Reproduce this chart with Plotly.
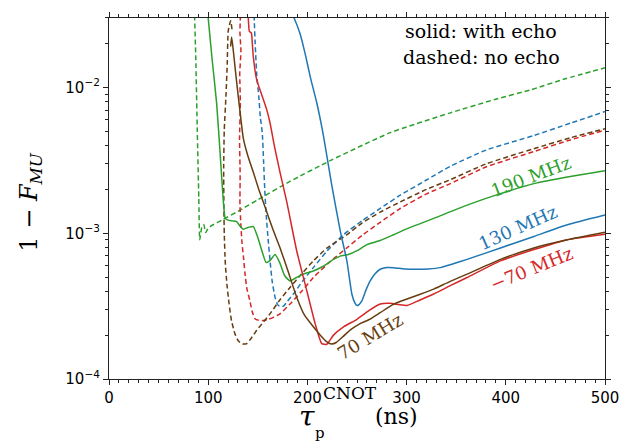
import plotly.graph_objects as go

# ---------------- data ----------------
# 190 MHz
green_noecho_x = [86.0, 87.5, 89.0, 90.5, 91.5, 93.5, 95.5, 97.5, 99.5, 103, 115, 130, 150, 182.5, 223, 283.5, 344, 390, 425, 460, 500]
green_noecho_y = [0.0355, 0.01585, 0.00501, 0.00178, 0.000902, 0.001096, 0.001148, 0.001012, 0.001072, 0.001122, 0.001245,
                  0.001413, 0.001698, 0.00227, 0.00315, 0.0049, 0.0067, 0.00832, 0.00964, 0.01148, 0.01365]
green_echo_x = [99.0, 100.0, 104.0, 108.5, 112.0, 115.3, 117.2, 120.0, 124.0, 128.7, 132.0, 135.4, 140.0, 145.5, 150.0,
                155.0, 158.3, 162.0, 167.4, 172.0, 177.0, 182.5, 189.0, 196.0, 206.0, 215.0, 226.3, 233.0, 241.4, 250.0,
                260.0, 273.4, 286.9, 300.0, 327.3, 361.0, 394.6, 428.3, 465.0, 500.0]
green_echo_y = [0.0355, 0.0300, 0.0155, 0.00782, 0.00355, 0.00164, 0.001265, 0.00123, 0.001216, 0.001202, 0.001122,
                0.001067, 0.001096, 0.001112, 0.000935, 0.000725, 0.000631, 0.000646, 0.000714, 0.000631, 0.000513,
                0.000471, 0.000497, 0.000525, 0.000551, 0.000589, 0.000661, 0.000697, 0.000714, 0.000759, 0.000836,
                0.000891, 0.000977, 0.001072, 0.001265, 0.00156, 0.00187, 0.00219, 0.00245, 0.00269]
# 130 MHz
blue_noecho_x = [146.0, 146.5, 147.5, 149.0, 151.0, 152.5, 154.5, 155.8, 157.0, 158.5, 160.6, 162.5, 164.5, 167.4, 170.0,
                 172.4, 175.8, 180.0, 185.9, 195.0, 206.0, 220.0, 236.4, 255.0, 273.4, 293.6, 320.0, 344.0, 380.0,
                 428.0, 465.0, 500.0]
blue_noecho_y = [0.0355, 0.0282, 0.01905, 0.01202, 0.00871, 0.00631, 0.0049, 0.00316, 0.002, 0.001318, 0.000879,
                 0.000631, 0.000468, 0.000363, 0.000324, 0.000314, 0.000316, 0.000343, 0.000383, 0.000468, 0.000581,
                 0.000759, 0.000977, 0.001216, 0.001479, 0.001824, 0.00232, 0.00288, 0.00372, 0.00468, 0.00569, 0.00684]
blue_echo_x = [181, 187, 192.6, 197.7, 203, 209.5, 216.2, 224.6, 233, 239.8, 244.8, 248, 250, 252, 255, 259, 263.3, 268,
               273.4, 280, 286.9, 298, 310, 322, 334, 347, 361, 394.6, 428.3, 462, 500]
blue_echo_y = [0.0355, 0.0295, 0.0234, 0.0171, 0.01175, 0.00783, 0.00466, 0.00213, 0.001047, 0.000646, 0.000383,
               0.000331, 0.000319, 0.000324, 0.000345, 0.000407, 0.000471, 0.000525, 0.000566, 0.000582, 0.000581,
               0.000569, 0.000566, 0.000569, 0.000581, 0.000617, 0.000662, 0.000793, 0.000951, 0.001143, 0.001334]
# -70 MHz
red_noecho_x = [132.8, 132.0, 133.0, 131.8, 132.4, 131.6, 132.2, 132.0, 133.0, 134.0, 135.5, 137.0, 139.0, 142.0, 144.5,
                147.2, 151.0, 155.6, 160.0, 165.7, 172.4, 182.5, 194.0, 206.0, 222.0, 239.8, 255.0, 273.4, 293.6,
                320.0, 344.0, 380.0, 428.0, 465.0, 500.0]
red_noecho_y = [0.0355, 0.024, 0.0178, 0.0126, 0.00794, 0.00447, 0.00251, 0.00158, 0.001122, 0.000871, 0.000692,
                0.000537, 0.000417, 0.000345, 0.000288, 0.000259, 0.000253, 0.000252, 0.000256, 0.000265, 0.00028,
                0.000327, 0.000398, 0.000497, 0.000631, 0.000794, 0.000966, 0.001189, 0.001479, 0.001862, 0.00219,
                0.00285, 0.00363, 0.00437, 0.0051]
red_echo_x = [140.0, 140.6, 141.5, 143.5, 144.5, 145.5, 148.9, 152.2, 155.5, 159.0, 162.3, 167.0, 172.4, 179.2, 189.3,
              199.4, 207.8, 214.5, 219.6, 226.3, 236.4, 250.0, 262.0, 273.4, 283.5, 292.0, 300.4, 313.0, 327.3, 344.0,
              361.0, 394.6, 428.3, 462.0, 500.0]
red_echo_y = [0.0355, 0.0282, 0.0243, 0.0237, 0.01995, 0.0162, 0.01127, 0.00964, 0.00832, 0.00705, 0.00573, 0.00389,
              0.00262, 0.00164, 0.000753, 0.000403, 0.00024, 0.000175, 0.000173, 0.0002, 0.000228, 0.000257, 0.000295,
              0.000327, 0.000331, 0.000324, 0.000319, 0.000347, 0.000383, 0.000437, 0.000497, 0.000646, 0.000773,
              0.000904, 0.000986]
# 70 MHz
brown_noecho_x = [124.0, 122.6, 120.2, 119.2, 117.9, 116.2, 115.6, 115.8, 116.2, 117.2, 119.0, 121.0, 123.5, 127.0,
                  130.5, 134.5, 138.8, 143.5, 148.9, 155.5, 162.3, 172.0, 182.5, 194.0, 206.0, 220.0, 239.8, 255.0,
                  273.4, 293.6, 320.0, 344.0, 380.0, 428.0, 465.0, 500.0]
brown_noecho_y = [0.0251, 0.0287, 0.0245, 0.01462, 0.00871, 0.00513, 0.00282, 0.00158, 0.001, 0.000631, 0.000437,
                  0.000331, 0.000251, 0.000204, 0.000182, 0.000174, 0.000175, 0.000191, 0.000216, 0.000245, 0.00028,
                  0.000347, 0.000425, 0.000525, 0.000646, 0.000794, 0.000977, 0.001175, 0.001396, 0.00164, 0.002,
                  0.00233, 0.00299, 0.0038, 0.00452, 0.00521]
brown_echo_x = [122.6, 123.6, 125.5, 128.0, 130.3, 133.0, 135.4, 140.0, 145.5, 151.0, 157.3, 165.0, 172.4, 180.0,
                189.3, 197.0, 206.0, 213.0, 219.6, 224.6, 229.0, 236.4, 244.0, 253.2, 263.0, 273.4, 286.0, 300.4,
                313.0, 327.3, 344.0, 361.0, 394.6, 428.3, 462.0, 500.0]
brown_echo_y = [0.0191, 0.0222, 0.0174, 0.0120, 0.00869, 0.00603, 0.00447, 0.00339, 0.00262, 0.002, 0.001514, 0.001072,
                0.000794, 0.000562, 0.000363, 0.000275, 0.000228, 0.0002, 0.00018, 0.000174, 0.000178, 0.000197,
                0.000219, 0.00024, 0.000257, 0.000285, 0.000324, 0.000354, 0.00038, 0.000414, 0.000468, 0.000524,
                0.000662, 0.000793, 0.000902, 0.001016]

x_ticks = [0, 100, 200, 300, 400, 500]
y_ticks = [1e-4, 1e-3, 1e-2]
y_minor = [2e-4, 3e-4, 4e-4, 5e-4, 6e-4, 7e-4, 8e-4, 9e-4,
           2e-3, 3e-3, 4e-3, 5e-3, 6e-3, 7e-3, 8e-3, 9e-3, 2e-2, 3e-2]

GREEN, BLUE, RED, BROWN = "#2ca02c", "#1f77b4", "#d62728", "#663d0f"
SERIF = "DejaVu Serif"

fig = go.Figure()

series = [
    (green_noecho_x, green_noecho_y, GREEN, True),
    (blue_noecho_x, blue_noecho_y, BLUE, True),
    (red_noecho_x, red_noecho_y, RED, True),
    (brown_noecho_x, brown_noecho_y, BROWN, True),
    (green_echo_x, green_echo_y, GREEN, False),
    (blue_echo_x, blue_echo_y, BLUE, False),
    (red_echo_x, red_echo_y, RED, False),
    (brown_echo_x, brown_echo_y, BROWN, False),
]
for xs, ys, col, dashed in series:
    fig.add_trace(go.Scatter(
        x=xs, y=ys, mode="lines",
        line=dict(color=col, width=1.5, dash="5px,3px" if dashed else "solid",
                  shape="spline", smoothing=0.5),
        showlegend=False, hoverinfo="skip"))

axis_common = dict(showline=True, linecolor="#222", linewidth=1.2, mirror="allticks",
                   ticks="outside", tickcolor="#222", ticklen=5, tickwidth=1.1,
                   showgrid=False, zeroline=False,
                   tickfont=dict(family="DejaVu Sans", size=15, color="black"))

fig.update_xaxes(range=[0, 500], tickvals=x_ticks, ticktext=[str(v) for v in x_ticks],
                 minor=dict(ticks="outside", ticklen=3, dtick=10, tickcolor="#222", showgrid=False),
                 **axis_common)
fig.update_yaxes(type="log", range=[-4, -1.523], tickvals=y_ticks,
                 ticktext=["10<sup>−4</sup>", "10<sup>−3</sup>", "10<sup>−2</sup>"],
                 minor=dict(ticks="outside", ticklen=3, tickvals=y_minor, tickcolor="#222", showgrid=False),
                 **axis_common)

ann = []
def add_text(txt, x, y, xref, yref, size, color="black", angle=0):
    ann.append(dict(x=x, y=y, xref=xref, yref=yref, text=txt, textangle=angle, showarrow=False,
                    xanchor="center", yanchor="middle",
                    font=dict(family=SERIF, size=size, color=color)))

# curve labels
for txt, xv, lv, ang, col in [("190 MHz", 425, -2.61, -21, GREEN),
                              ("130 MHz", 412, -2.96, -24, BLUE),
                              ("−70 MHz", 426, -3.245, -22, RED),
                              ("70 MHz", 263, -3.71, -31, BROWN)]:
    add_text(txt, xv, lv, "x", "y", 18, col, ang)
# legend-like text
add_text("solid: with echo", 375, -1.612, "x", "y", 19)
add_text("dashed: no echo", 375, -1.79, "x", "y", 19)
# y title
add_text("1 − <i>F</i><sub><i>MU</i></sub>", -0.16, 0.49, "paper", "paper", 24, angle=-90)
# x title pieces
add_text("<i>τ</i>", 199.7, -0.103, "x", "paper", 28)
add_text("CNOT", 243, -0.04, "x", "paper", 17)
add_text("p", 212.8, -0.15, "x", "paper", 15)
add_text("(ns)", 290, -0.103, "x", "paper", 22)

fig.update_layout(width=631, height=441, margin=dict(l=109, r=26, t=14, b=62),
                  plot_bgcolor="white", paper_bgcolor="white", annotations=ann)

fig.write_html("out.html", config={"displayModeBar": False},
               post_script="document.body.style.margin='0';")
